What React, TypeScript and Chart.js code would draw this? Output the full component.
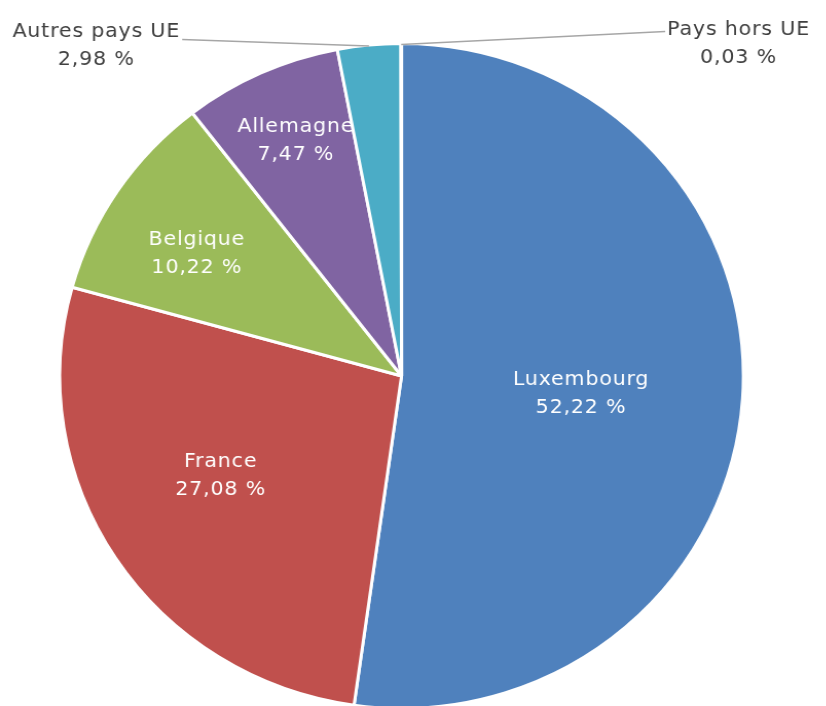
import React, { useEffect, useRef } from "react";
import { Chart, registerables } from "chart.js";

Chart.register(...registerables);

const categories = ["Luxembourg", "France", "Belgique", "Allemagne", "Autres pays UE", "Pays hors UE"];
const shares = [52.22, 27.08, 10.22, 7.47, 2.98, 0.03];
const valueLabels = ["52,22 %", "27,08 %", "10,22 %", "7,47 %", "2,98 %", "0,03 %"];

const colors = ["#4F81BD", "#C0504D", "#9BBB59", "#8064A2", "#4BACC6", "#F79646"];
// label placement styles
const labelStyle = [
  { inside: true, f: 0.528, da: 1.9 },
  { inside: true, f: 0.608, da: 3.8 },
  { inside: true, f: 0.703, da: -2.3 },
  { inside: true, f: 0.773, da: 0.7 },
  { inside: false, dx: -0.893, dy: -1.036, lead: 0.5, side: "left", ldy: 8 },
  { inside: false, dx: 0.986, dy: -1.042, lead: 0.5, side: "right", ldy: 2 },
];

const FONT = "'DejaVu Sans', sans-serif";
const STRETCH = 1.028;
const CW = 803;
const CH = 750;

const labelPlugin = {
  id: "pieLabels",
  afterDatasetsDraw(chart: any) {
    const ctx = chart.ctx;
    const meta = chart.getDatasetMeta(0);
    meta.data.forEach((arc: any, i: number) => {
      const p = arc.getProps(["x", "y", "startAngle", "endAngle", "outerRadius"], true);
      const st: any = labelStyle[i];
      ctx.save();
      ctx.textAlign = "center";
      ctx.textBaseline = "middle";
      ctx.font = `20px ${FONT}`;
      (ctx as any).letterSpacing = "0.8px";
      if (st.inside) {
        const mid = (p.startAngle + p.endAngle) / 2 + (st.da * Math.PI) / 180;
        const r = p.outerRadius * st.f;
        const lx = p.x + Math.cos(mid) * r;
        const ly = p.y + Math.sin(mid) * r;
        ctx.fillStyle = "#ffffff";
        ctx.fillText(categories[i], lx, ly - 14);
        ctx.fillText(valueLabels[i], lx, ly + 14);
      } else {
        const R = p.outerRadius;
        const lx = p.x + st.dx * R;
        const ly = p.y + st.dy * R;
        ctx.fillStyle = "#404040";
        ctx.fillText(categories[i], lx, ly);
        ctx.fillText(valueLabels[i], lx, ly + 28);
        const w = ctx.measureText(categories[i]).width;
        const a = p.startAngle + st.lead * (p.endAngle - p.startAngle);
        const ex = p.x + Math.cos(a) * R;
        const ey = p.y + Math.sin(a) * R;
        const sx = st.side === "left" ? lx + w / 2 + 2 : lx - w / 2 - 2;
        ctx.strokeStyle = "#A6A6A6";
        ctx.lineWidth = 1.5;
        ctx.beginPath();
        ctx.moveTo(sx, ly + st.ldy);
        ctx.lineTo(ex, ey + 1);
        ctx.stroke();
      }
      ctx.restore();
    });
  },
};

export default function App() {
  const ref = useRef<HTMLCanvasElement | null>(null);
  useEffect(() => {
    if (!ref.current) return;
    const chart = new Chart(ref.current, {
      type: "pie",
      data: {
        labels: categories,
        datasets: [
          {
            data: shares,
            backgroundColor: colors,
            borderColor: "#ffffff",
            borderWidth: 3,
          },
        ],
      },
      options: {
        responsive: false,
        animation: false,
        layout: { padding: { top: 42, bottom: 40, left: 56.6, right: 78.4 } },
        plugins: {
          legend: { display: false },
          tooltip: { enabled: false },
        },
      },
      plugins: [labelPlugin],
    });
    return () => chart.destroy();
  }, []);
  return (
    <div style={{ position: "absolute", left: 0, top: 0, width: 826, height: 706, overflow: "hidden", background: "#fff" }}>
      <div style={{ transform: `scaleX(${STRETCH})`, transformOrigin: "0 0", width: CW, height: CH }}>
        <canvas ref={ref} width={CW} height={CH} style={{ width: CW, height: CH, display: "block" }} />
      </div>
    </div>
  );
}
